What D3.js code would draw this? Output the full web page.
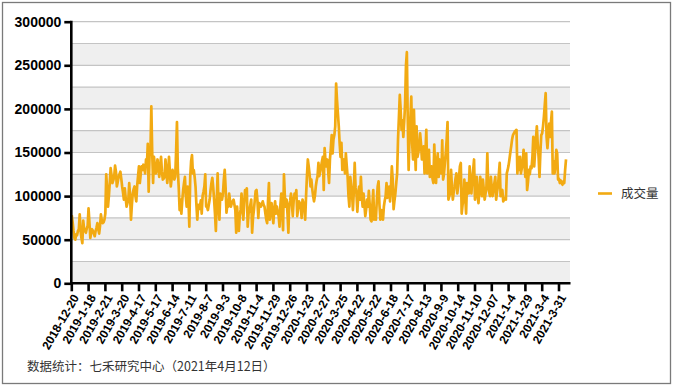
<!DOCTYPE html>
<html>
<head>
<meta charset="utf-8">
<script src="https://cdn.jsdelivr.net/npm/d3@7"></script>
<style>
  html, body { margin: 0; padding: 0; background: #fff; }
  svg { display: block; }
  .num { font-family: "Liberation Sans", Arial, sans-serif; font-weight: bold; fill: #000; }
  .cjk { font-family: "Noto Sans CJK SC", sans-serif; fill: #333; }
</style>
</head>
<body>
<svg id="chart" width="673" height="386"></svg>
<script>
"use strict";

// x tick labels, one every 19 trading days
var tickLabels = [
	'2018-12-20', '2019-1-18', '2019-2-21', '2019-3-20', '2019-4-17', '2019-5-17',
	'2019-6-14', '2019-7-11', '2019-8-7', '2019-9-3', '2019-10-8', '2019-11-4',
	'2019-11-29', '2019-12-26', '2020-1-23', '2020-2-27', '2020-3-25', '2020-4-22',
	'2020-5-22', '2020-6-18', '2020-7-17', '2020-8-13', '2020-9-9', '2020-10-14',
	'2020-11-10', '2020-12-07', '2021-1-4', '2021-1-29', '2021-3-4', '2021-3-31'
];
var TICK_STEP = 19;

var yTicks = [0, 50000, 100000, 150000, 200000, 250000, 300000];
var seriesName = '成交量';
var footNote = '数据统计：七禾研究中心（2021年4月12日）';

// daily volume
var volume = [
	78000, 70000, 60000, 52000, 50000, 56000, 55000, 60000, 62000, 79000,
	60000, 52000, 46000, 72000, 62000, 60000, 58000, 63000, 66000, 86000,
	70000, 52000, 58000, 62000, 60000, 57000, 54000, 60000, 64000, 69000,
	62000, 57000, 66000, 79000, 72000, 69000, 70000, 73000, 80000, 125000,
	108000, 88000, 100000, 115000, 132000, 124000, 115000, 118000, 122000, 135000,
	128000, 111000, 116000, 122000, 125000, 128000, 120000, 111000, 104000, 96000,
	109000, 98000, 88000, 92000, 96000, 115000, 100000, 73000, 90000, 103000,
	108000, 111000, 100000, 94000, 112000, 123000, 134000, 115000, 125000, 134000,
	130000, 136000, 132000, 126000, 142000, 135000, 160000, 105000, 146000, 150000,
	203000, 150000, 115000, 145000, 135000, 126000, 132000, 142000, 130000, 122000,
	135000, 145000, 128000, 119000, 120000, 122000, 142000, 130000, 115000, 125000,
	145000, 128000, 111000, 120000, 130000, 125000, 119000, 122000, 150000, 185000,
	130000, 110000, 84000, 96000, 80000, 95000, 107000, 115000, 122000, 100000,
	88000, 111000, 95000, 65000, 122000, 140000, 147000, 126000, 130000, 122000,
	111000, 90000, 73000, 90000, 85000, 88000, 95000, 80000, 100000, 105000,
	111000, 125000, 88000, 88000, 84000, 90000, 96000, 107000, 115000, 121000,
	110000, 96000, 80000, 60000, 95000, 126000, 90000, 73000, 103000, 100000,
	96000, 103000, 119000, 130000, 110000, 81000, 90000, 88000, 103000, 95000,
	88000, 92000, 94000, 96000, 90000, 84000, 58000, 88000, 73000, 60000,
	77000, 85000, 103000, 88000, 73000, 90000, 107000, 100000, 109000, 65000,
	80000, 84000, 90000, 96000, 58000, 75000, 84000, 95000, 106000, 107000,
	95000, 75000, 92000, 90000, 88000, 91000, 94000, 90000, 88000, 80000,
	73000, 69000, 95000, 115000, 73000, 85000, 92000, 80000, 69000, 85000,
	94000, 80000, 88000, 82000, 77000, 65000, 90000, 103000, 80000, 61000,
	125000, 100000, 88000, 96000, 80000, 58000, 90000, 95000, 103000, 90000,
	77000, 95000, 103000, 100000, 107000, 77000, 85000, 94000, 92000, 88000,
	75000, 96000, 92000, 88000, 73000, 100000, 123000, 142000, 134000, 125000,
	111000, 119000, 108000, 100000, 94000, 100000, 111000, 118000, 123000, 138000,
	123000, 128000, 134000, 140000, 145000, 107000, 155000, 140000, 134000, 142000,
	128000, 115000, 142000, 155000, 170000, 149000, 165000, 170000, 180000, 229000,
	210000, 195000, 180000, 160000, 145000, 161000, 130000, 138000, 142000, 126000,
	149000, 135000, 122000, 100000, 88000, 122000, 112000, 103000, 84000, 105000,
	138000, 110000, 103000, 82000, 100000, 111000, 96000, 122000, 100000, 88000,
	103000, 90000, 77000, 85000, 96000, 88000, 106000, 90000, 73000, 71000,
	90000, 107000, 73000, 80000, 73000, 95000, 111000, 117000, 90000, 73000,
	84000, 78000, 73000, 88000, 95000, 100000, 115000, 98000, 105000, 111000,
	94000, 110000, 134000, 119000, 85000, 95000, 103000, 115000, 126000, 165000,
	190000, 216000, 199000, 176000, 187000, 168000, 185000, 206000, 250000, 265000,
	187000, 130000, 168000, 190000, 214000, 160000, 142000, 199000, 160000, 130000,
	180000, 145000, 150000, 157000, 172000, 160000, 142000, 150000, 157000, 126000,
	150000, 176000, 126000, 140000, 153000, 122000, 128000, 134000, 120000, 115000,
	159000, 130000, 115000, 140000, 149000, 122000, 142000, 130000, 126000, 164000,
	119000, 125000, 138000, 150000, 164000, 185000, 96000, 100000, 103000, 130000,
	110000, 96000, 105000, 111000, 120000, 126000, 103000, 111000, 122000, 134000,
	138000, 80000, 90000, 96000, 119000, 100000, 80000, 115000, 108000, 103000,
	134000, 115000, 103000, 119000, 130000, 142000, 96000, 110000, 122000, 100000,
	92000, 105000, 122000, 110000, 100000, 119000, 108000, 96000, 103000, 111000,
	149000, 111000, 105000, 100000, 122000, 110000, 100000, 107000, 115000, 122000,
	96000, 105000, 111000, 125000, 138000, 100000, 104000, 107000, 94000, 96000,
	98000, 96000, 126000, 130000, 135000, 142000, 150000, 157000, 165000, 170000,
	172000, 174000, 175000, 176000, 126000, 145000, 130000, 145000, 126000, 132000,
	138000, 153000, 135000, 122000, 149000, 107000, 116000, 130000, 125000, 134000,
	132000, 145000, 168000, 134000, 150000, 166000, 180000, 160000, 145000, 122000,
	150000, 170000, 172000, 180000, 191000, 205000, 218000, 168000, 155000, 170000,
	183000, 168000, 185000, 197000, 126000, 140000, 126000, 135000, 153000, 149000,
	119000, 120000, 115000, 118000, 115000, 113000, 117000, 115000, 130000, 142000
];

var LINE_COLOR = '#f2aa12';

var svg = d3.select('#chart');
var W = 673, H = 386;

var plot = { left: 71.3, right: 570, top: 21.7, bottom: 283.3 };

var x = d3.scaleLinear()
	.domain([0, 564])
	.range([plot.left, plot.right]);
var y = d3.scaleLinear()
	.domain([0, 300000])
	.range([plot.bottom, plot.top]);

// outer frame
svg.append('rect')
	.attr('x', 2.5).attr('y', 2.5)
	.attr('width', W - 5).attr('height', H - 5)
	.attr('fill', '#fff')
	.attr('stroke', '#7a7a7a')
	.attr('stroke-width', 1.3);

// alternating bands, gray on [0,25k], [50k,75k] ...
var bandStarts = d3.range(0, 300000, 50000);
svg.append('g').selectAll('rect')
	.data(bandStarts)
	.enter().append('rect')
	.attr('x', plot.left)
	.attr('y', function(d) { return y(d + 25000); })
	.attr('width', plot.right - plot.left)
	.attr('height', function(d) { return y(d) - y(d + 25000); })
	.attr('fill', '#efefef');

// grid lines every 25k
svg.append('g').selectAll('line')
	.data(d3.range(25000, 300001, 25000))
	.enter().append('line')
	.attr('x1', plot.left).attr('x2', plot.right)
	.attr('y1', function(d) { return y(d); })
	.attr('y2', function(d) { return y(d); })
	.attr('stroke', '#c4c4c4')
	.attr('stroke-width', 1.2);

// the series
var line = d3.line()
	.x(function(d, i) { return x(i + 0.5); })
	.y(function(d) { return y(d); });

svg.append('path')
	.datum(volume)
	.attr('d', line)
	.attr('fill', 'none')
	.attr('stroke', LINE_COLOR)
	.attr('stroke-width', 2.7)
	.attr('stroke-linejoin', 'round');

// y axis
var yAxis = d3.axisLeft(y)
	.tickValues(yTicks)
	.tickSize(7)
	.tickPadding(3)
	.tickFormat(d3.format('d'));
var yAxisG = svg.append('g')
	.attr('transform', 'translate(' + plot.left + ',0)')
	.call(yAxis);
yAxisG.select('.domain')
	.attr('d', 'M0,' + (plot.top - 1) + 'V' + (plot.bottom + 1.3))
	.attr('stroke', '#000').attr('stroke-width', 2.6);
yAxisG.selectAll('.tick line').attr('stroke', '#000').attr('stroke-width', 2.6);
yAxisG.selectAll('.tick text')
	.attr('class', 'num')
	.style('font-size', '14px');

// x axis with category ticks
var xAxis = d3.axisBottom(x)
	.tickValues(tickLabels.map(function(d, i) { return i * TICK_STEP; }))
	.tickSize(8)
	.tickFormat(function(d) { return tickLabels[d / TICK_STEP]; });
var xAxisG = svg.append('g')
	.attr('transform', 'translate(0,' + plot.bottom + ')')
	.call(xAxis);
xAxisG.select('.domain')
	.attr('d', 'M' + (plot.left - 1.3) + ',0H' + (plot.right + 0.5))
	.attr('stroke', '#000').attr('stroke-width', 2.6);
xAxisG.selectAll('.tick line').attr('stroke', '#000').attr('stroke-width', 2.6);
xAxisG.selectAll('.tick text')
	.attr('class', 'num')
	.style('font-size', '12px')
	.attr('text-anchor', 'end')
	.attr('x', 0).attr('y', 0).attr('dy', '0.35em')
	.attr('transform', 'translate(4,12) rotate(-60)');

// legend
var legend = svg.append('g').attr('transform', 'translate(598,193.5)');
legend.append('line')
	.attr('x1', 0).attr('x2', 14)
	.attr('stroke', LINE_COLOR)
	.attr('stroke-width', 2.6);
legend.append('text')
	.attr('class', 'cjk')
	.attr('x', 23).attr('dy', '0.35em')
	.style('font-size', '12.5px')
	.text(seriesName);

// source note
svg.append('text')
	.attr('class', 'cjk')
	.attr('x', 27).attr('y', 366.5)
	.attr('dy', '0.35em')
	.style('font-size', '12.5px')
	.text(footNote);
</script>
</body>
</html>
